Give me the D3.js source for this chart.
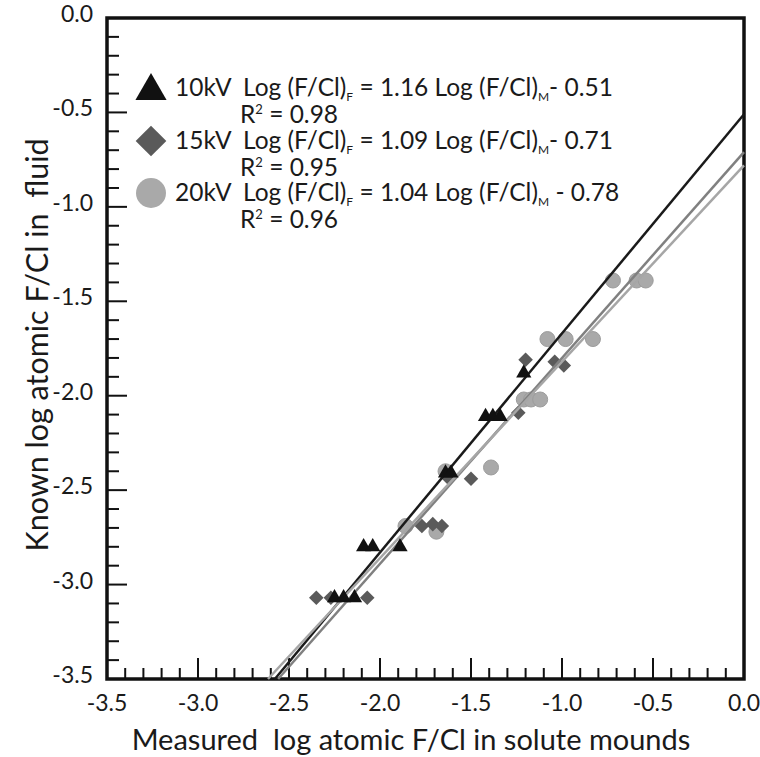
<!DOCTYPE html>
<html>
<head>
<meta charset="utf-8">
<script src="https://cdn.jsdelivr.net/npm/d3@7"></script>
<style>
  body { margin: 0; background: #fff; }
  text { font-family: Lato, "Open Sans", sans-serif; fill: #1a1a1a; white-space: pre; }
</style>
</head>
<body>
<div id="chart"></div>
<script>
// Axis ticks
const xTicks = [-3.5, -3.0, -2.5, -2.0, -1.5, -1.0, -0.5, 0.0];
const yTicks = [0.0, -0.5, -1.0, -1.5, -2.0, -2.5, -3.0, -3.5];

// Measured (x) vs known (y) log F/Cl
const pts10kV = [
  [-2.25, -3.07], [-2.20, -3.07], [-2.14, -3.07],
  [-2.09, -2.80], [-2.04, -2.80], [-1.89, -2.80],
  [-1.64, -2.41], [-1.61, -2.41],
  [-1.42, -2.11], [-1.38, -2.11], [-1.34, -2.11],
  [-1.21, -1.88]
];
const pts15kV = [
  [-2.35, -3.07], [-2.27, -3.07], [-2.07, -3.07],
  [-1.77, -2.69], [-1.71, -2.68], [-1.66, -2.69],
  [-1.63, -2.43], [-1.50, -2.44],
  [-1.24, -2.09],
  [-1.20, -1.81], [-1.04, -1.82], [-0.99, -1.84]
];
const pts20kV = [
  [-1.86, -2.69], [-1.69, -2.72],
  [-1.64, -2.40], [-1.39, -2.38],
  [-1.21, -2.02], [-1.17, -2.02], [-1.12, -2.02],
  [-1.08, -1.70], [-0.98, -1.70], [-0.83, -1.70],
  [-0.72, -1.39], [-0.59, -1.39], [-0.54, -1.39]
];

// Regression fits: slope, intercept, R2
const fits = [
  {kv: '10kV', slope: 1.16, icept: -0.51, r2: '0.98', sign: '- 0.51'},
  {kv: '15kV', slope: 1.09, icept: -0.71, r2: '0.95', sign: '- 0.71'},
  {kv: '20kV', slope: 1.04, icept: -0.78, r2: '0.96', sign: ' - 0.78'}
];

const W = 760, H = 757;
const margin = {top: 18, right: 16, bottom: 78, left: 107};
const iw = W - margin.left - margin.right;
const ih = H - margin.top - margin.bottom;

const svg = d3.select('#chart').append('svg')
  .attr('width', W)
  .attr('height', H);

const g = svg.append('g')
  .attr('transform', `translate(${margin.left},${margin.top})`);

const x = d3.scaleLinear().domain([-3.5, 0]).range([0, iw]);
const y = d3.scaleLinear().domain([-3.5, 0]).range([ih, 0]);

// minor ticks every 0.1
const minor = d3.range(-35, 1).map(d => d / 10);
const isMajor = d => Math.abs(d * 2 - Math.round(d * 2)) < 1e-6;

// bottom axis ticks (pointing up, inside)
g.append('g')
  .selectAll('line')
  .data(minor)
  .enter().append('line')
    .attr('x1', d => x(d)).attr('x2', d => x(d))
    .attr('y1', ih)
    .attr('y2', d => ih - (isMajor(d) ? 21 : 11))
    .attr('stroke', '#111')
    .attr('stroke-width', 2);

// left axis ticks (pointing right, inside)
g.append('g')
  .selectAll('line')
  .data(minor)
  .enter().append('line')
    .attr('y1', d => y(d)).attr('y2', d => y(d))
    .attr('x1', 0)
    .attr('x2', d => (isMajor(d) ? 20 : 12))
    .attr('stroke', '#111')
    .attr('stroke-width', 2);

// tick labels
g.append('g')
  .selectAll('text')
  .data(xTicks)
  .enter().append('text')
    .attr('x', d => x(d))
    .attr('y', ih + 32)
    .attr('text-anchor', 'middle')
    .style('font-size', '23px')
    .text(d => d.toFixed(1));

g.append('g')
  .selectAll('text')
  .data(yTicks)
  .enter().append('text')
    .attr('x', -14)
    .attr('y', d => y(d) + 4)
    .attr('text-anchor', 'end')
    .style('font-size', '23px')
    .text(d => d.toFixed(1));

// frame
g.append('rect')
  .attr('width', iw)
  .attr('height', ih)
  .attr('fill', 'none')
  .attr('stroke', '#111')
  .attr('stroke-width', 3.5);

// axis titles
svg.append('text')
  .attr('x', 411)
  .attr('y', 750)
  .attr('text-anchor', 'middle')
  .style('font-size', '29px')
  .text('Measured  log atomic F/Cl in solute mounds');

svg.append('text')
  .attr('transform', 'translate(48,345) rotate(-90)')
  .attr('text-anchor', 'middle')
  .style('font-size', '30.5px')
  .text('Known log atomic F/Cl in  fluid');

// marker symbols
const tri = d3.symbol().type(d3.symbolTriangle);
const dia = d3.symbol().type(d3.symbolDiamond2);

// circles (20kV)
g.append('g')
  .selectAll('circle')
  .data(pts20kV)
  .enter().append('circle')
    .attr('cx', d => x(d[0]))
    .attr('cy', d => y(d[1]))
    .attr('r', 7.5)
    .attr('fill', '#a9a9a9')
    .attr('stroke', '#9c9c9c')
    .attr('stroke-width', 1);

// diamonds (15kV)
g.append('g')
  .selectAll('path')
  .data(pts15kV)
  .enter().append('path')
    .attr('transform', d => `translate(${x(d[0])},${y(d[1])})`)
    .attr('d', dia.size(135))
    .attr('fill', '#5a5a5a');

// regression lines
const lineColors = ['#1a1a1a', '#808080', '#a6a6a6'];
const fitLine = d3.line().x(d => x(d[0])).y(d => y(d[1]));
g.append('g')
  .selectAll('path')
  .data(fits)
  .enter().append('path')
    .attr('d', f => fitLine([[(-3.5 - f.icept) / f.slope, -3.5], [0, f.icept]]))
    .attr('fill', 'none')
    .attr('stroke', (f, i) => lineColors[i])
    .attr('stroke-width', 2.5);

// triangles (10kV)
g.append('g')
  .selectAll('path')
  .data(pts10kV)
  .enter().append('path')
    .attr('transform', d => `translate(${x(d[0])},${y(d[1])})`)
    .attr('d', tri.size(100))
    .attr('fill', '#111');

// legend
const legend = svg.append('g');
const legY = [88, 141, 193];

legend.append('path')
  .attr('transform', `translate(151,${legY[0] + 3})`)
  .attr('d', d3.symbol().type(d3.symbolTriangle).size(420)())
  .attr('fill', '#111');
legend.append('path')
  .attr('transform', `translate(151,${legY[1]})`)
  .attr('d', d3.symbol().type(d3.symbolDiamond2).size(600)())
  .attr('fill', '#5a5a5a');
legend.append('circle')
  .attr('cx', 151).attr('cy', legY[2])
  .attr('r', 15)
  .attr('fill', '#a9a9a9');

fits.forEach((f, i) => {
  const by = legY[i] + 8;
  legend.append('text')
    .attr('x', 175).attr('y', by)
    .style('font-size', '24.5px')
    .text(f.kv);
  const eq = legend.append('text')
    .attr('x', 243).attr('y', by)
    .style('font-size', '24.5px');
  eq.append('tspan').text('Log (F/Cl)');
  eq.append('tspan').attr('dy', 5).style('font-size', '12px').text('F');
  eq.append('tspan').attr('dy', -5).text(` = ${f.slope.toFixed(2)} Log (F/Cl)`);
  eq.append('tspan').attr('dy', 5).style('font-size', '12px').text('M');
  eq.append('tspan').attr('dy', -5).text(f.sign);

  const r = legend.append('text')
    .attr('x', 240).attr('y', by + 27)
    .style('font-size', '24.5px');
  r.append('tspan').text('R');
  r.append('tspan').attr('dy', -9).style('font-size', '13px').text('2');
  r.append('tspan').attr('dy', 9).text(` = ${f.r2}`);
});
</script>
</body>
</html>
